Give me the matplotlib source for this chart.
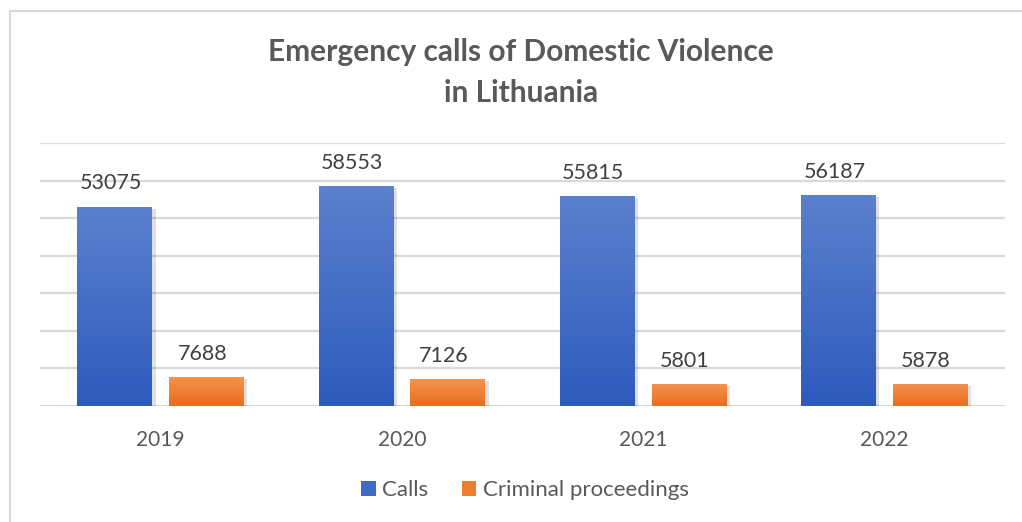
import matplotlib
matplotlib.use('Agg')
import matplotlib.pyplot as plt
import matplotlib.patheffects as pe
from matplotlib.colors import LinearSegmentedColormap
import numpy as np

plt.rcParams['font.family'] = ['Lato', 'DejaVu Sans']

years = ['2019', '2020', '2021', '2022']
calls = [53075, 58553, 55815, 56187]
criminal = [7688, 7126, 5801, 5878]

text_col = '#595959'
grid_col = '#d9d9d9'

fig = plt.figure(figsize=(10.22, 5.22), dpi=100)
ax = fig.add_axes([40/1022, 1-406/522, 965/1022, 263/522])

x = np.arange(len(years))
w = 0.31
off = 0.19

# gradients top light -> bottom dark
blue_cm = LinearSegmentedColormap.from_list('b', ['#2d5bbd', '#5b80cd'])
orange_cm = LinearSegmentedColormap.from_list('o', ['#e86d1b', '#f4934f'])
grad = np.linspace(0, 1, 256).reshape(-1, 1)

shadow = [pe.SimplePatchShadow(offset=(2.5, -1.5), shadow_rgbFace='#000000', alpha=0.12), pe.Normal()]
b1 = ax.bar(x - off, calls, w, color='#3f6ac6', label='Calls', zorder=3, path_effects=shadow)
b2 = ax.bar(x + off, criminal, w, color='#ed7d31', label='Criminal proceedings', zorder=3, path_effects=shadow)

for bars, cm in [(b1, blue_cm), (b2, orange_cm)]:
    for r in bars:
        x0, y0 = r.get_x(), r.get_y()
        im = ax.imshow(grad, cmap=cm, origin='lower', aspect='auto', zorder=4,
                       extent=[x0, x0 + r.get_width(), y0, y0 + r.get_height()])
        im.set_clip_path(r)

for bars, vals in [(b1, calls), (b2, criminal)]:
    for r, v in zip(bars, vals):
        ax.annotate(str(v), (r.get_x() + r.get_width()/2, v), xytext=(-3, 12.5),
                    textcoords='offset points', ha='center', va='baseline',
                    fontsize=15.5, color='#404040', zorder=5)

ax.set_xlim(-0.5, len(years) - 0.5)
ax.set_ylim(0, 70000)
ax.set_yticks(np.arange(0, 70001, 10000))
ax.yaxis.grid(True, color=grid_col, linewidth=1.6, zorder=0)
ax.set_axisbelow(True)
ax.tick_params(axis='y', left=False, labelleft=False)
ax.tick_params(axis='x', bottom=False, labelsize=15, labelcolor=text_col, pad=14)
ax.set_xticks(x)
ax.set_xticklabels(years)
for s in ax.spines.values():
    s.set_visible(False)

fig.text(521/1022, 1-52/522, 'Emergency calls of Domestic Violence', ha='center', va='center',
         fontsize=21.5, fontweight='bold', color=text_col)
fig.text(521/1022, 1-93/522, 'in Lithuania', ha='center', va='center',
         fontsize=21.5, fontweight='bold', color=text_col)

leg = fig.legend(handles=[b1, b2], loc='center', bbox_to_anchor=(525/1022, 1-490/522), ncol=2,
                 frameon=False, fontsize=16, handlelength=0.65, handleheight=0.65,
                 handletextpad=0.3, columnspacing=1.5, labelcolor=text_col)
for h in leg.legend_handles:
    h.set_path_effects([])

# chart border (left and top edges visible)
fig.add_artist(plt.Line2D([9.5/1022, 9.5/1022], [0, 1-11/522], color='#d9d9d9', linewidth=1.5))
fig.add_artist(plt.Line2D([9.5/1022, 1], [1-11/522, 1-11/522], color='#d9d9d9', linewidth=1.5))

fig.savefig('out.png', dpi=100)
